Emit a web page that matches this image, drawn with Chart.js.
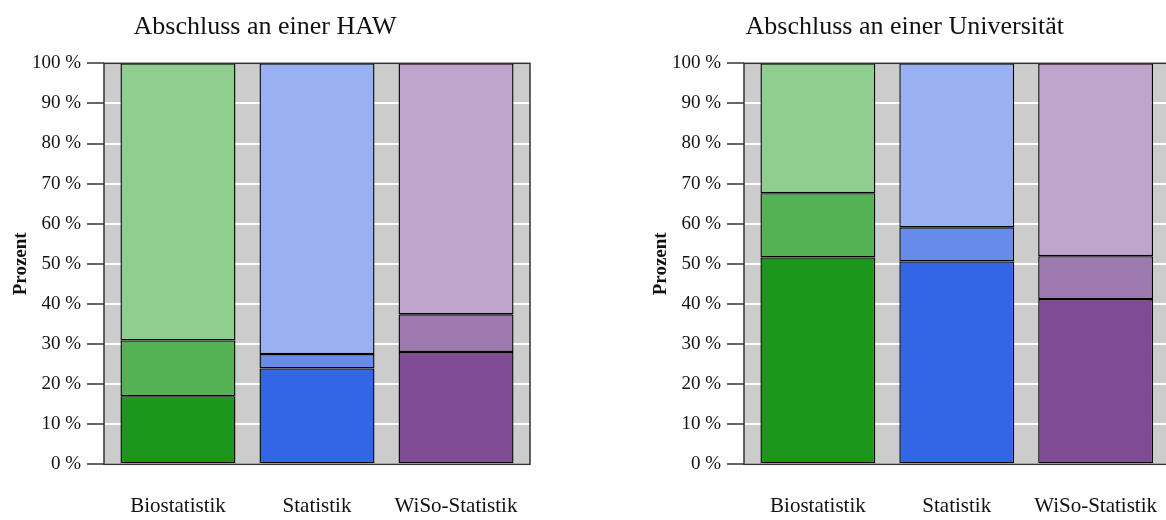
<!DOCTYPE html>
<html><head><meta charset="utf-8">
<script src="https://cdn.jsdelivr.net/npm/chart.js@4.4.1/dist/chart.umd.min.js"></script>
<style>
html,body{margin:0;padding:0;width:1166px;height:520px;overflow:hidden;background:#fff;position:relative}
.panel{position:absolute;top:0;height:520px}
#leftWrap{left:0;width:542px}
#rightWrap{left:640px;width:534px}
</style></head><body>
<div class="panel" id="leftWrap"><canvas id="left" width="542" height="520"></canvas></div>
<div class="panel" id="rightWrap"><canvas id="right" width="534" height="520"></canvas></div>
<script>
// ---- data ----
const categories = ['Biostatistik', 'Statistik', 'WiSo-Statistik'];
const categoryPositions = [1, 2, 3];
const yTickValues = [0, 10, 20, 30, 40, 50, 60, 70, 80, 90, 100];
const titles = ['Abschluss an einer HAW', 'Abschluss an einer Universität'];
const yAxisTitle = 'Prozent';

// stacked segment sizes in percent (lower / middle / upper)
const hawLower  = [17.0, 23.9, 28.0];
const hawMiddle = [13.9, 3.6, 9.4];
const hawUpper  = [69.1, 72.5, 62.6];
const uniLower  = [51.6, 50.6, 41.2];
const uniMiddle = [16.0, 8.5, 10.7];
const uniUpper  = [32.4, 40.9, 48.1];

const darkColors  = ['#1b981b', '#3366e6', '#7f4c94'];
const midColors   = ['#54b154', '#668bea', '#9e79b0'];
const lightColors = ['#8fce8f', '#99b1f1', '#bfa5cb'];

const FONT = "'Liberation Serif', 'DejaVu Serif', serif";

const panelPlugin = {
  id: 'panelPlugin',
  beforeDraw(chart) {
    const { ctx, chartArea: a } = chart;
    ctx.save();
    ctx.fillStyle = '#cccccc';
    ctx.fillRect(a.left, a.top, a.right - a.left, a.bottom - a.top);
    ctx.restore();
  },
  afterDraw(chart) {
    const { ctx, chartArea: a } = chart;
    ctx.save();
    ctx.strokeStyle = '#333333';
    ctx.lineWidth = 1.5;
    ctx.strokeRect(a.left, a.top, a.right - a.left, a.bottom - a.top);
    ctx.restore();
  }
};

function toPoints(values) {
  return values.map((v, i) => ({ x: categoryPositions[i], y: v }));
}

function makeChart(canvasId, title, lower, middle, upper, padRight) {
  const seg = (label, values, colors) => ({
    label, data: toPoints(values), backgroundColor: colors,
    borderColor: '#000000', borderWidth: 1.4, borderSkipped: false,
    categoryPercentage: 1, barPercentage: 0.827
  });
  return new Chart(document.getElementById(canvasId), {
    type: 'bar',
    data: {
      datasets: [
        seg('lower', lower, darkColors),
        seg('middle', middle, midColors),
        seg('upper', upper, lightColors)
      ]
    },
    plugins: [panelPlugin],
    options: {
      responsive: false,
      animation: false,
      layout: { padding: { left: 0, right: padRight, top: 0, bottom: 0 } },
      plugins: {
        legend: { display: false },
        tooltip: { enabled: false },
        title: {
          display: true, text: title, color: '#111',
          font: { family: FONT, size: 26, weight: 'normal' },
          padding: { top: 11.4, bottom: 20.7 }
        }
      },
      scales: {
        x: {
          type: 'linear', stacked: true, offset: false, min: 0.468, max: 3.532,
          afterBuildTicks(scale) { scale.ticks = categoryPositions.map(v => ({ value: v })); },
          afterFit(scale) { scale.height = 55.7; },
          ticks: {
            callback: (v) => categories[categoryPositions.indexOf(v)],
            color: '#111', font: { family: FONT, size: 21 }, padding: 2,
            maxRotation: 0, autoSkip: false
          },
          grid: {
            display: true, drawOnChartArea: false, drawTicks: true,
            tickLength: 28, tickColor: 'rgba(0,0,0,0)'
          },
          border: { display: false }
        },
        y: {
          stacked: true, min: 0, max: 100,
          afterBuildTicks(scale) { scale.ticks = yTickValues.map(v => ({ value: v })); },
          afterFit(scale) { scale.width = 104; },
          ticks: {
            callback: (v) => v + ' %',
            color: '#111', font: { family: FONT, size: 19 }, padding: 6
          },
          grid: {
            color: '#ffffff', lineWidth: 2,
            tickColor: '#333333', tickWidth: 1.5, tickLength: 17
          },
          border: { display: false },
          title: {
            display: true, text: yAxisTitle, color: '#111',
            font: { family: FONT, size: 19, weight: 'bold' },
            padding: { top: 10, bottom: 0 }
          }
        }
      }
    }
  });
}

makeChart('left', titles[0], hawLower, hawMiddle, hawUpper, 12);
makeChart('right', titles[1], uniLower, uniMiddle, uniUpper, 4.5);
</script>
</body></html>
